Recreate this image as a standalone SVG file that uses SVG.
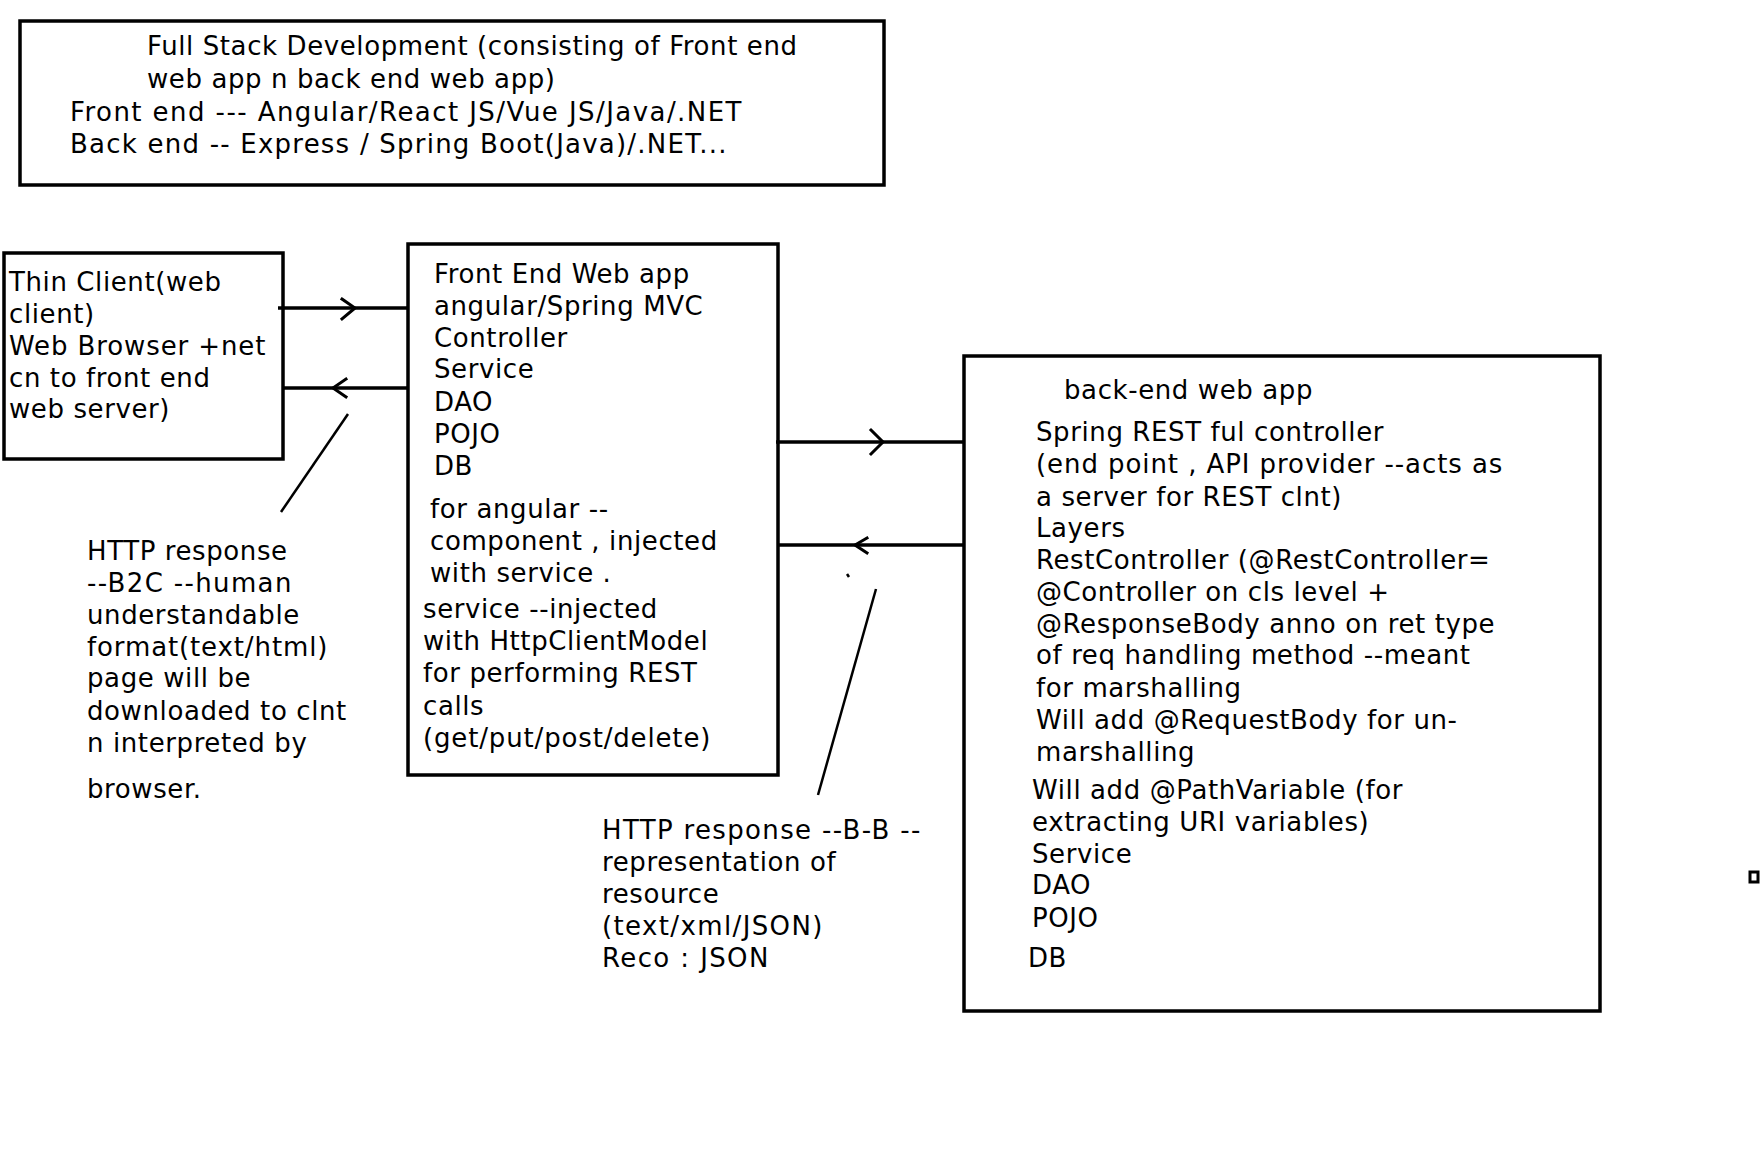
<svg xmlns="http://www.w3.org/2000/svg" width="1763" height="1149" viewBox="0 0 1763 1149">
<style>
.box{fill:#fff;stroke:#000;stroke-width:3.5}
.t{font-family:"DejaVu Sans","Verdana",sans-serif;font-size:26px;letter-spacing:0.6px;fill:#000}
.ln{stroke:#000;stroke-width:3.5;fill:none}
.ch{stroke:#000;stroke-width:3;fill:none;stroke-linecap:square}
.an{stroke:#000;stroke-width:2.5;fill:none}
</style>
<rect width="1763" height="1149" fill="#fff"/>
<g id="title">
<rect class="box" x="20" y="21" width="864" height="164"/>
<text class="t" x="147" y="55">Full Stack Development (consisting of Front end</text>
<text class="t" x="147" y="88">web app n back end web app)</text>
<text class="t" x="70" y="121" textLength="672">Front end --- Angular/React JS/Vue JS/Java/.NET</text>
<text class="t" x="70" y="153" textLength="657">Back end -- Express / Spring Boot(Java)/.NET...</text>
</g>
<g id="thin-client">
<rect class="box" x="4" y="253" width="279" height="206"/>
<text class="t" x="9" y="291">Thin Client(web</text>
<text class="t" x="9" y="323">client)</text>
<text class="t" x="9" y="355" textLength="257">Web Browser +net</text>
<text class="t" x="9" y="387">cn to front end</text>
<text class="t" x="9" y="418">web server)</text>
</g>
<g id="front-end">
<rect class="box" x="408" y="244" width="370" height="531"/>
<text class="t" x="434" y="283">Front End Web app</text>
<text class="t" x="434" y="315">angular/Spring MVC</text>
<text class="t" x="434" y="347">Controller</text>
<text class="t" x="434" y="378">Service</text>
<text class="t" x="434" y="411">DAO</text>
<text class="t" x="434" y="443">POJO</text>
<text class="t" x="434" y="475">DB</text>
<text class="t" x="430" y="518">for angular --</text>
<text class="t" x="430" y="550">component , injected</text>
<text class="t" x="430" y="582">with service .</text>
<text class="t" x="423" y="618">service --injected</text>
<text class="t" x="423" y="650">with HttpClientModel</text>
<text class="t" x="423" y="682">for performing REST</text>
<text class="t" x="423" y="715">calls</text>
<text class="t" x="423" y="747" textLength="288">(get/put/post/delete)</text>
</g>
<g id="back-end">
<rect class="box" x="964" y="356" width="636" height="655"/>
<text class="t" x="1064" y="399">back-end web app</text>
<text class="t" x="1036" y="441">Spring REST ful controller</text>
<text class="t" x="1036" y="473" textLength="467">(end point , API provider --acts as</text>
<text class="t" x="1036" y="506">a server for REST clnt)</text>
<text class="t" x="1036" y="537">Layers</text>
<text class="t" x="1036" y="569">RestController (@RestController=</text>
<text class="t" x="1036" y="601">@Controller on cls level +</text>
<text class="t" x="1036" y="633">@ResponseBody anno on ret type</text>
<text class="t" x="1036" y="664">of req handling method --meant</text>
<text class="t" x="1036" y="697">for marshalling</text>
<text class="t" x="1036" y="729">Will add @RequestBody for un-</text>
<text class="t" x="1036" y="761">marshalling</text>
<text class="t" x="1032" y="799">Will add @PathVariable (for</text>
<text class="t" x="1032" y="831">extracting URI variables)</text>
<text class="t" x="1032" y="863">Service</text>
<text class="t" x="1032" y="894">DAO</text>
<text class="t" x="1032" y="927">POJO</text>
<text class="t" x="1028" y="967">DB</text>
</g>
<g id="note-b2c">
<text class="t" x="87" y="560">HTTP response</text>
<text class="t" x="87" y="592" textLength="205">--B2C --human</text>
<text class="t" x="87" y="624">understandable</text>
<text class="t" x="87" y="656" textLength="241">format(text/html)</text>
<text class="t" x="87" y="687">page will be</text>
<text class="t" x="87" y="720">downloaded to clnt</text>
<text class="t" x="87" y="752">n interpreted by</text>
<text class="t" x="87" y="798">browser.</text>
</g>
<g id="note-b2b">
<text class="t" x="602" y="839" textLength="319">HTTP response --B-B --</text>
<text class="t" x="602" y="871">representation of</text>
<text class="t" x="602" y="903">resource</text>
<text class="t" x="602" y="935" textLength="221">(text/xml/JSON)</text>
<text class="t" x="602" y="967" textLength="167">Reco : JSON</text>
</g>
<g id="connectors">
<line class="ln" x1="278" y1="308" x2="408" y2="308"/>
<polyline class="ch" points="342,299 355,308 342,319"/>
<line class="ln" x1="283" y1="388" x2="408" y2="388"/>
<polyline class="ch" points="346,379 333,388 346,397"/>
<line class="an" x1="348" y1="414" x2="281" y2="512"/>
<line class="ln" x1="776" y1="442" x2="964" y2="442"/>
<polyline class="ch" points="871,430 883,442 871,454"/>
<line class="ln" x1="778" y1="545" x2="964" y2="545"/>
<polyline class="ch" points="867,538 855,545 867,553"/>
<line class="an" x1="876" y1="589" x2="818" y2="795"/>
<line class="an" x1="847" y1="574" x2="849" y2="577"/>
</g>
<rect x="1750" y="872" width="8" height="10" fill="none" stroke="#000" stroke-width="3"/>
</svg>
